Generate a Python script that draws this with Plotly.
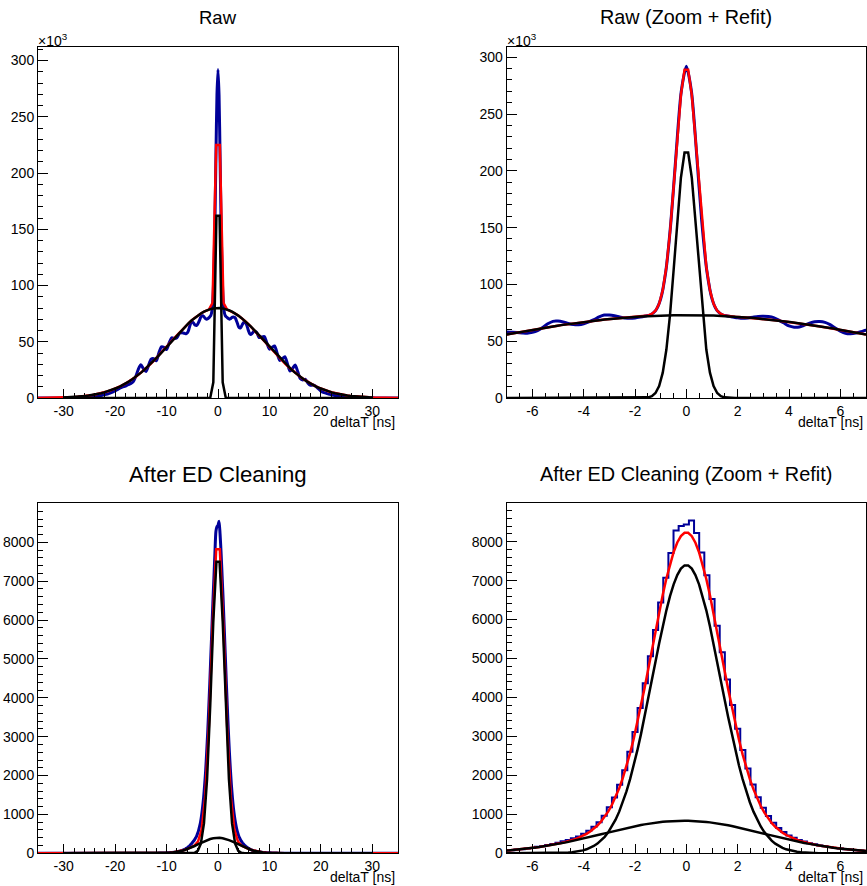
import numpy as np
import plotly.graph_objects as go

# ---------------- data ----------------
# Raw histogram, counts in thousands; three bin regions (coarse | fine | coarse)
raw_outer_left_k = [0.1, 0.1, 0.1, 0.1, 0.1, 0.1, 0.1, 0.1, 0.1, 0.1,
                    0.15, 0.2, 0.3, 0.35, 0.4, 0.5, 0.6, 0.7, 0.8, 1.0,
                    1.1, 1.3, 1.5, 1.8, 2.1, 2.5, 3.0, 3.6, 4.4, 5.2,
                    6.3, 7.5, 9.0, 10.0, 10.5, 11.8, 12.8, 14.5, 19.0, 25.5,
                    29.5, 26.0, 23.5, 29.0, 34.5, 35.0, 33.0, 40.0, 45.5, 45.0,
                    43.0, 49.0, 53.5, 53.0, 53.5, 57.5]
raw_inner_k = [58.0, 57.8, 57.6, 57.3, 57.1, 57.8, 59.3, 62.1, 65.3, 67.5,
               67.7, 66.9, 65.6, 64.7, 64.5, 65.3, 67.0, 69.0, 71.4, 73.0,
               73.1, 72.5, 71.4, 70.5, 70.1, 70.4, 71.2, 72.2, 73.3, 76.9,
               87.3, 111.6, 155.6, 215.0, 269.6, 292.0, 269.6, 215.0, 155.6, 111.6,
               87.3, 76.9, 73.3, 72.2, 71.4, 70.6, 70.1, 70.5, 71.2, 71.8,
               71.9, 71.7, 70.8, 68.5, 66.0, 63.4, 62.3, 62.5, 64.1, 65.9,
               67.2, 67.4, 66.6, 64.6, 61.6, 58.9, 56.9, 56.5, 57.1, 58.3, 59.6]
raw_outer_right_k = [58.5, 53.7, 54.2, 54.6, 49.0, 43.4, 44.9, 46.3, 39.8, 33.4,
                     35.0, 36.7, 30.5, 23.9, 26.3, 29.4, 23.5, 17.3, 16.1, 16.6,
                     13.1, 11.3, 11.5, 10.4, 8.3, 6.3, 5.0, 4.3, 3.5, 2.9,
                     2.4, 2.0, 1.7, 1.4, 1.2, 1.0, 0.8, 0.7, 0.6, 0.5,
                     0.4, 0.35, 0.3, 0.25, 0.2, 0.15,
                     0.1, 0.1, 0.1, 0.1, 0.1, 0.1, 0.1, 0.1, 0.1, 0.1]

# After ED cleaning histogram, counts
ed_outer_left = [0, 0, 0, 0, 0, 0, 0, 0, 0, 0,
                 1, 1, 1, 1, 1, 1, 1, 1, 1, 1,
                 1, 1, 1, 1, 1, 1, 1, 1, 1, 1,
                 1, 1, 1, 1, 1, 1, 1, 1, 1, 1,
                 2, 2, 2, 2, 3, 3, 4, 5, 7, 9,
                 12, 16, 21, 27, 36, 52]
ed_inner = [75, 81, 98, 106, 126, 137, 165, 180, 211, 240,
            271, 307, 341, 386, 431, 500, 576, 683, 798, 967,
            1182, 1431, 1760, 2129, 2610, 3114, 3732, 4364, 5061, 5733,
            6441, 7072, 7711, 8287, 8405, 8438, 8541, 8220, 7721, 7138,
            6525, 5844, 5158, 4460, 3806, 3195, 2650, 2178, 1769, 1438,
            1169, 955, 785, 651, 545, 460, 396, 343, 300, 261,
            233, 202, 181, 161, 137, 126, 107, 98, 81, 71, 61]
ed_outer_right = [50, 38, 29, 22, 17, 13, 10, 7, 5, 4,
                  3, 3, 2, 2, 2, 2,
                  1, 1, 1, 1, 1, 1, 1, 1, 1, 1,
                  1, 1, 1, 1, 1, 1, 1, 1, 1, 1,
                  1, 1, 1, 1, 1, 1, 1, 1, 1, 1,
                  0, 0, 0, 0, 0, 0, 0, 0, 0, 0]

# bin centres (ns)
outer_left_x = np.round(np.arange(-35.0, -7.25, 0.5), 2)
inner_x = np.round(np.arange(-7.0, 7.01, 0.2), 2)
outer_right_x = np.round(np.arange(7.5, 35.01, 0.5), 2)

# fitted gaussian components: (amplitude, mean, sigma)
raw_full_narrow = (220.0, 0.0, 0.387)
raw_full_wide = (80.0, 0.0, 9.4)
raw_zoom_narrow = (219.0, 0.0, 0.43)
raw_zoom_wide = (73.0, 0.0, 9.6)
ed_full_narrow = (7720.0, 0.0, 1.27)
ed_full_wide = (400.0, 0.0, 3.7)
ed_zoom_narrow = (7400.0, 0.0, 1.33)
ed_zoom_wide = (838.0, -0.1, 3.1)

titles = ["Raw", "Raw (Zoom + Refit)", "After ED Cleaning", "After ED Cleaning (Zoom + Refit)"]
title_sizes = [18.5, 19.8, 22.2, 19.9]
x_title = "deltaT [ns]"

# ---------------- figure ----------------
FONT = "Liberation Sans, Arial, Helvetica, sans-serif"
BLUE = "#000099"
RED = "#ff0000"
BLACK = "#000000"

raw_x = np.concatenate([outer_left_x, inner_x, outer_right_x])
raw_y = np.array(raw_outer_left_k + raw_inner_k + raw_outer_right_k)
ed_x = raw_x
ed_y = np.array(ed_outer_left + ed_inner + ed_outer_right, dtype=float)


def gaus(x, p):
    a, m, s = p
    return a * np.exp(-0.5 * ((x - m) / s) ** 2)


fig = go.Figure()

panels = [
    # (axis suffix, hist x, hist y, shape, narrow, wide, red range, black range, blue width)
    ("", raw_x, raw_y, "spline", raw_full_narrow, raw_full_wide, (-35, 35), (-30, 30), 3),
    ("2", raw_x, raw_y, "spline", raw_zoom_narrow, raw_zoom_wide, (-7, 7), (-7, 7), 3),
    ("3", ed_x, ed_y, "spline", ed_full_narrow, ed_full_wide, (-35, 35), (-30, 30), 3),
    ("4", ed_x, ed_y, "hvh", ed_zoom_narrow, ed_zoom_wide, (-7, 7), (-7, 7), 2),
]

for suf, hx, hy, shape, pn, pw, rr, br, bw in panels:
    xa, ya = "x" + suf, "y" + suf
    line = dict(color=BLUE, width=bw, shape=shape)
    if shape == "spline":
        line["smoothing"] = 0.7
    fig.add_trace(go.Scatter(x=hx, y=hy, mode="lines", line=line,
                             xaxis=xa, yaxis=ya, showlegend=False, hoverinfo="skip"))
    xr = np.linspace(rr[0], rr[1], 100)
    fig.add_trace(go.Scatter(x=xr, y=gaus(xr, pn) + gaus(xr, pw), mode="lines",
                             line=dict(color=RED, width=2.5), xaxis=xa, yaxis=ya,
                             showlegend=False, hoverinfo="skip"))
    xb = np.linspace(br[0], br[1], 100)
    fig.add_trace(go.Scatter(x=xb, y=gaus(xb, pn), mode="lines",
                             line=dict(color=BLACK, width=2.5), xaxis=xa, yaxis=ya,
                             showlegend=False, hoverinfo="skip"))
    fig.add_trace(go.Scatter(x=xb, y=gaus(xb, pw), mode="lines",
                             line=dict(color=BLACK, width=2.5), xaxis=xa, yaxis=ya,
                             showlegend=False, hoverinfo="skip"))

W, H = 867, 886


def px_x(X):
    return X / W


def px_y(Y):
    return 1 - Y / H


left_dom = [px_x(38), px_x(398)]
right_dom = [px_x(506.7), px_x(866)]
top_dom = [px_y(398), px_y(47)]
bot_dom = [px_y(853.3), px_y(502.7)]

common = dict(showline=True, linecolor="black", linewidth=1, mirror=True,
              ticks="inside", tickcolor="black", tickwidth=1,
              showgrid=False, zeroline=False, automargin=False,
              tickfont=dict(family=FONT, size=14, color="black"))


def fmt(v):
    return "%g" % v


full_major = [-30, -20, -10, 0, 10, 20, 30]
full_minor = [v for v in range(-30, 31, 2) if v % 10 != 0]
zoom_major = [-6, -4, -2, 0, 2, 4, 6]
zoom_minor = [v / 2 for v in range(-14, 15) if v % 4 != 0]


def xaxis(dom, major, minor, rng, anchor):
    return dict(common, domain=dom, range=list(rng), anchor=anchor,
                tickvals=major, ticktext=[fmt(v) for v in major], ticklen=9,
                minor=dict(tickvals=minor, ticks="inside", ticklen=5, tickcolor="black", tickwidth=1))


def yaxis(dom, major, dminor, rng, anchor):
    return dict(common, domain=dom, range=list(rng), anchor=anchor,
                tickvals=major, ticktext=[fmt(v) for v in major], ticklen=10,
                minor=dict(dtick=dminor, ticks="inside", ticklen=5, tickcolor="black", tickwidth=1))


raw_major = [0, 50, 100, 150, 200, 250, 300]
ed_major = [0, 1000, 2000, 3000, 4000, 5000, 6000, 7000, 8000]

fig.update_layout(
    template="none",
    width=W, height=H, margin=dict(l=0, r=0, t=0, b=0, pad=0, autoexpand=False),
    paper_bgcolor="white", plot_bgcolor="white", showlegend=False,
    xaxis=xaxis(left_dom, full_major, full_minor, (-35, 35), "y"),
    yaxis=yaxis(top_dom, raw_major, 10, (0, 312), "x"),
    xaxis2=xaxis(right_dom, zoom_major, zoom_minor, (-7, 7), "y2"),
    yaxis2=yaxis(top_dom, raw_major, 10, (0, 309), "x2"),
    xaxis3=xaxis(left_dom, full_major, full_minor, (-35, 35), "y3"),
    yaxis3=yaxis(bot_dom, ed_major, 200, (0, 9020), "x3"),
    xaxis4=xaxis(right_dom, zoom_major, zoom_minor, (-7, 7), "y4"),
    yaxis4=yaxis(bot_dom, ed_major, 200, (0, 9000), "x4"),
)

ann = []
centers_x = [(left_dom[0] + left_dom[1]) / 2, (right_dom[0] + right_dom[1]) / 2]
title_y = [px_y(17), px_y(474)]
for i, t in enumerate(titles):
    ann.append(dict(text=t, x=centers_x[i % 2], y=title_y[i // 2], xref="paper", yref="paper",
                    xanchor="center", yanchor="middle", showarrow=False,
                    font=dict(family=FONT, size=title_sizes[i], color="black")))
xt_y = [px_y(421.7), px_y(877)]
for r in range(2):
    for dom in [left_dom, right_dom]:
        ann.append(dict(text=x_title, x=dom[1] - 1 / W, y=xt_y[r], xref="paper", yref="paper",
                        xanchor="right", yanchor="middle", showarrow=False,
                        font=dict(family=FONT, size=14, color="black")))
for dom in [left_dom, right_dom]:
    ann.append(dict(text="\u00d710<sup>3</sup>", x=dom[0] - 2 / W, y=px_y(40), xref="paper", yref="paper",
                    xanchor="left", yanchor="middle", showarrow=False,
                    font=dict(family=FONT, size=14, color="black")))
fig.update_layout(annotations=ann)

# remove the browser's default 8 px page margin so the figure sits at the window origin
fig.write_html("out.html",
               config={"displayModeBar": False, "staticPlot": True},
               post_script="document.body.style.margin='0px';document.body.style.padding='0px';")
